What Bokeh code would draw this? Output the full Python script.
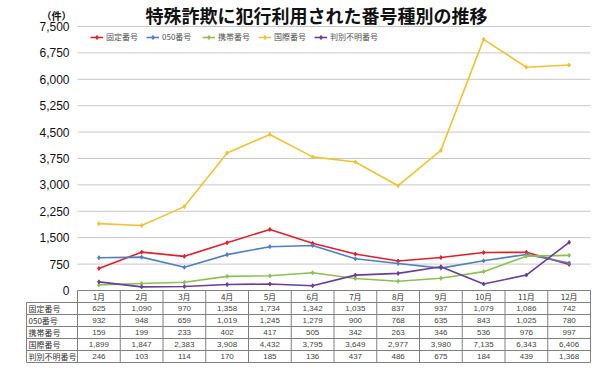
from bokeh.plotting import figure
from bokeh.models import Range1d, Legend, LegendItem, ColumnDataSource
from bokeh.core.properties import value
from bokeh.embed import file_html
from bokeh.resources import INLINE

# ---- data ----
months = ["1月", "2月", "3月", "4月", "5月", "6月", "7月", "8月", "9月", "10月", "11月", "12月"]
series_names = ["固定番号", "050番号", "携帯番号", "国際番号", "判別不明番号"]
fixed = [625, 1090, 970, 1358, 1734, 1342, 1035, 837, 937, 1079, 1086, 742]
ip050 = [932, 948, 659, 1019, 1245, 1279, 900, 768, 635, 843, 1025, 780]
mobile = [159, 199, 233, 402, 417, 505, 342, 263, 346, 536, 976, 997]
intl = [1899, 1847, 2383, 3908, 4432, 3795, 3649, 2977, 3980, 7135, 6343, 6406]
unknown = [246, 103, 114, 170, 185, 136, 437, 486, 675, 184, 439, 1368]
y_ticks = [0, 750, 1500, 2250, 3000, 3750, 4500, 5250, 6000, 6750, 7500]
title_text = "特殊詐欺に犯行利用された番号種別の推移"
unit_text = "（件）"

series_values = [fixed, ip050, mobile, intl, unknown]
colors = ["#E0202A", "#4F7FC0", "#8CC152", "#F2C232", "#6A3D9A"]

# ---- geometry (page pixels -> data) ----
W, H = 592, 364
PAGE_OFF = 0
plot_left, plot_right = 77, 590
col_w = (plot_right - plot_left) / len(months)
y0_px, ytop_px = 290, 26
upp = y_ticks[-1] / (y0_px - ytop_px)   # data units per pixel

def px2x(px):
    return 0.5 + (px - plot_left) / col_w

def py2y(py):
    return (y0_px - py) * upp

p = figure(width=W, height=H, output_backend="svg", toolbar_location=None,
           x_range=Range1d(px2x(PAGE_OFF), px2x(PAGE_OFF + W)),
           y_range=Range1d(py2y(PAGE_OFF + H), py2y(PAGE_OFF)),
           min_border=0)
p.axis.visible = False
p.grid.visible = False
p.outline_line_color = None
p.background_fill_color = "white"

xs = list(range(1, len(months) + 1))
x_lo, x_hi = px2x(plot_left), px2x(plot_right)

# gridlines
p.segment(x0=[x_lo] * len(y_ticks), x1=[x_hi] * len(y_ticks), y0=y_ticks, y1=y_ticks,
          line_color="#C8C8C8", line_width=1)

# y tick labels
p.text(x=[px2x(69)] * len(y_ticks), y=y_ticks, text=[f"{t:,}" for t in y_ticks],
       text_align="right", text_baseline="middle", text_font=value("Liberation Sans"),
       text_font_size="12px", text_color="#111111")

# title & unit
p.text(x=[px2x(316)], y=[py2y(14)], text=[title_text], text_align="center",
       text_baseline="middle", text_font=value("Noto Sans CJK JP"), text_font_style="bold",
       text_font_size="18px", text_color="#111111")
p.text(x=[px2x(56)], y=[py2y(15)], text=[unit_text], text_align="center",
       text_baseline="middle", text_font=value("Noto Sans CJK JP"), text_font_style="bold",
       text_font_size="10px", text_color="#111111")

# series
items = []
for name, vals, c in zip(series_names, series_values, colors):
    src = ColumnDataSource(dict(x=xs, y=vals))
    r1 = p.line("x", "y", source=src, line_color=c, line_width=1.6)
    r2 = p.scatter("x", "y", source=src, marker="diamond", size=4, color=c)
    items.append(LegendItem(label=name, renderers=[r1, r2]))

legend = Legend(items=items, orientation="horizontal",
                location=(90 - PAGE_OFF, (PAGE_OFF + H) - 42),
                margin=0, padding=0, spacing=0,
                glyph_width=13, glyph_height=10, label_height=10,
                label_width=40, label_standoff=3,
                label_text_font="Noto Sans CJK JP", label_text_font_size="8px",
                label_text_color="#505050", border_line_color=None,
                background_fill_alpha=0)
p.add_layout(legend, "center")

# ---- data table ----
row_h = 12
n_rows = len(series_names) + 1
tbl_left = 26
border = "#808080"
# horizontal borders
hx0, hx1, hy = [], [], []
for k in range(n_rows + 1):
    py = y0_px + k * row_h
    hx0.append(x_lo if k == 0 else px2x(tbl_left))
    hx1.append(x_hi)
    hy.append(py2y(py))
p.segment(x0=hx0, x1=hx1, y0=hy, y1=hy, line_color=border, line_width=1)
# vertical borders
vx = [x - 0.5 for x in xs] + [xs[-1] + 0.5]
p.segment(x0=vx, x1=vx, y0=[py2y(y0_px)] * len(vx), y1=[py2y(y0_px + n_rows * row_h)] * len(vx),
          line_color=border, line_width=1)
p.segment(x0=[px2x(tbl_left)], x1=[px2x(tbl_left)], y0=[py2y(y0_px + row_h)],
          y1=[py2y(y0_px + n_rows * row_h)], line_color=border, line_width=1)

# header
p.text(x=xs, y=[py2y(y0_px + row_h / 2)] * len(xs), text=months, text_align="center",
       text_baseline="middle", text_font=value("Noto Sans CJK JP"), text_font_size="8px",
       text_color="#333333")
# rows
for i, (name, vals) in enumerate(zip(series_names, series_values)):
    yc = py2y(y0_px + row_h * (i + 1.5))
    p.text(x=[px2x(tbl_left + 2)], y=[yc], text=[name], text_align="left",
           text_baseline="middle", text_font=value("Noto Sans CJK JP"), text_font_size="8px",
           text_color="#333333")
    p.text(x=xs, y=[yc] * len(xs), text=[f"{v:,}" for v in vals], text_align="center",
           text_baseline="middle", text_font=value("Liberation Sans"), text_font_size="8px",
           text_color="#444444")

open("out.html", "w").write(file_html(p, INLINE))
